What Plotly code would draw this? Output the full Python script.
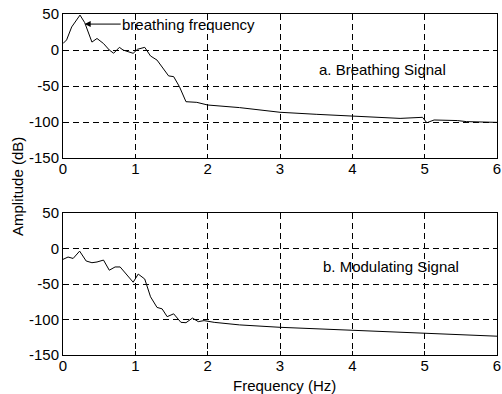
import plotly.graph_objects as go

# Breathing signal spectrum
freq_a = [0, 0.05, 0.12, 0.235, 0.30, 0.40, 0.47, 0.56, 0.64, 0.70, 0.78, 0.83, 0.90, 0.97,
          1.03, 1.13, 1.21, 1.30, 1.46, 1.53, 1.61, 1.70, 1.85, 2.0, 2.44, 3.0, 3.5, 4.0,
          4.66, 4.97, 5.03, 5.13, 5.45, 5.58, 6.0]
amp_a = [9, 14, 32, 48.5, 38, 11, 16, 9, 0, -4.5, 3.7, 0, -2.3, -4.6,
         1, 3.7, -8.3, -14, -36, -37, -51, -71.8, -72.7, -76.4, -80, -86.5, -89.3, -91.7,
         -95, -93.5, -101, -97.2, -98, -99.5, -100.5]

# Modulating signal spectrum
freq_b = [0, 0.07, 0.14, 0.23, 0.32, 0.40, 0.47, 0.56, 0.64, 0.72, 0.79, 0.88, 0.97,
          1.04, 1.13, 1.21, 1.30, 1.37, 1.44, 1.53, 1.63, 1.70, 1.79, 1.87, 1.95, 2.09,
          2.44, 3.0, 4.0, 5.0, 6.0]
amp_b = [-15.3, -12, -14, -3.7, -17.6, -20, -19, -16.3, -30.6, -26, -26, -36, -47.5,
         -36, -43, -68, -83, -85, -96, -92, -104, -104.5, -98, -103, -101.6, -104,
         -107.6, -111, -115.5, -120, -123.5]

x_ticks = [0, 1, 2, 3, 4, 5, 6]
y_ticks = [-150, -100, -50, 0, 50]
y_tick_labels = ["-150", "-100", "-50", "0", "50"]

FONT = "Liberation Sans, Arial, sans-serif"

fig = go.Figure()
fig.add_trace(go.Scatter(x=freq_a, y=amp_a, mode="lines", line=dict(color="black", width=1),
                         xaxis="x", yaxis="y", showlegend=False, hoverinfo="skip"))
fig.add_trace(go.Scatter(x=freq_b, y=amp_b, mode="lines", line=dict(color="black", width=1),
                         xaxis="x2", yaxis="y2", showlegend=False, hoverinfo="skip"))

common = dict(showline=True, linecolor="black", linewidth=1, mirror="ticks",
              ticks="inside", ticklen=4, tickcolor="black", tickwidth=1,
              showgrid=True, gridcolor="black", gridwidth=1, griddash="6px,4px",
              zeroline=False, automargin=False,
              tickfont=dict(family=FONT, size=15, color="black"))

fig.update_layout(
    width=502, height=394,
    margin=dict(l=63, r=5, t=14, b=39, autoexpand=False),
    paper_bgcolor="white", plot_bgcolor="white",
    xaxis=dict(range=[0, 6], tickvals=x_ticks, anchor="y", domain=[0, 1],
               ticklabelstandoff=-3, **common),
    yaxis=dict(range=[-150, 50], tickvals=y_ticks, ticktext=y_tick_labels,
               anchor="x", domain=[0.5777, 1], **common),
    xaxis2=dict(range=[0, 6], tickvals=x_ticks, anchor="y2", domain=[0, 1],
                ticklabelstandoff=-3, **common),
    yaxis2=dict(range=[-150, 50], tickvals=y_ticks, ticktext=y_tick_labels,
                anchor="x2", domain=[0, 0.4164], **common),
    font=dict(family=FONT, size=15, color="black"),
)

fig.add_annotation(x=0.30, y=36, xref="x", yref="y", text="breathing frequency",
                   showarrow=True, arrowhead=2, arrowsize=1.2, arrowwidth=1, arrowcolor="black",
                   ax=104, ay=0, font=dict(family=FONT, size=15, color="black"))
fig.add_annotation(x=4.42, y=-27, xref="x", yref="y", text="a. Breathing Signal",
                   showarrow=False, font=dict(family=FONT, size=15, color="black"))
fig.add_annotation(x=4.53, y=-25, xref="x2", yref="y2", text="b. Modulating Signal",
                   showarrow=False, font=dict(family=FONT, size=15, color="black"))
fig.add_annotation(x=-0.105, y=0.494, xref="paper", yref="paper", text="Amplitude (dB)",
                   textangle=-90, showarrow=False, xanchor="center", yanchor="middle",
                   font=dict(family=FONT, size=15, color="black"))
fig.add_annotation(x=0.51, y=-0.088, xref="paper", yref="paper", text="Frequency (Hz)",
                   showarrow=False, xanchor="center", yanchor="middle",
                   font=dict(family=FONT, size=15, color="black"))

fig.write_html("out.html", config={"displayModeBar": False},
               post_script="document.body.style.margin='0';")
